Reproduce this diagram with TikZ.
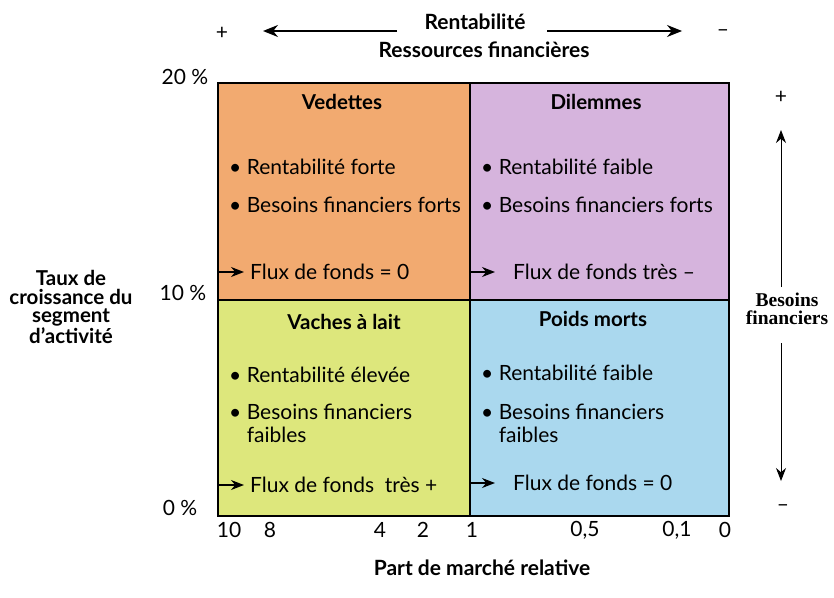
\documentclass[tikz,border=0pt]{standalone}
\usepackage{fontspec}
\setmainfont{Lato}
\newfontfamily\sideserif{Liberation Serif}
\usetikzlibrary{arrows.meta}
\definecolor{vedcol}{RGB}{242,170,112}
\definecolor{dilcol}{RGB}{214,180,221}
\definecolor{vaccol}{RGB}{221,231,124}
\definecolor{poicol}{RGB}{170,216,238}
\tikzset{
  cell/.style = {draw=black, line width=1.2pt},
  qtitle/.style = {font=\fontsize{20.5}{24}\selectfont\bfseries},
  item/.style = {anchor=west, align=left, inner sep=0pt,
    font=\fontsize{21}{23}\selectfont},
  flux/.style = {anchor=west, inner xsep=6pt, inner ysep=0pt,
    font=\fontsize{21}{24}\selectfont},
  tick/.style = {font=\fontsize{21}{24}\selectfont},
  axis/.style = {align=center, font=\fontsize{21}{24}\selectfont\bfseries},
  sidelabel/.style = {align=center, inner sep=1pt,
    font=\fontsize{19.5}{18.5}\selectfont\sideserif\bfseries},
  flow/.style = {-{Stealth[length=13pt,width=10pt]}, line width=1.3pt}
}

\begin{document}
\begin{tikzpicture}[x=1pt,y=-1pt]
  \useasboundingbox (0,0) rectangle (834,597);
  % the four quadrants
  \fill[vedcol] (218,83) rectangle (470,300);
  \fill[dilcol] (470,83) rectangle (729,300);
  \fill[vaccol] (218,300) rectangle (470,516);
  \fill[poicol] (470,300) rectangle (729,516);
  \draw[cell] (218,83) rectangle (729,516);
  \draw[cell] (470,83) -- (470,516);
  \draw[cell] (218,300) -- (729,300);

  % Vedettes
  \node[qtitle] (ved) at (342,102) {Vedettes};
  \node[item] (ved1) at (229,167) {\textbullet\ Rentabilité forte};
  \node[item] (ved2) at (229,205) {\textbullet\ Besoins financiers forts};
  \node[flux] (vedf) at (244,272) {Flux de fonds = 0};
  \coordinate (vedin) at (218,272);
  \draw[flow] (vedin) -- (vedf.west);

  % Dilemmes
  \node[qtitle] (dil) at (596,102) {Dilemmes};
  \node[item] (dil1) at (481,167) {\textbullet\ Rentabilité faible};
  \node[item] (dil2) at (481,205) {\textbullet\ Besoins financiers forts};
  \node[flux] (dilf) at (507,272) {Flux de fonds très --};
  \coordinate (dilin) at (471,272);
  \draw[flow] (dilin) -- ([xshift=-12pt]dilf.west);

  % Vaches a lait
  \node[qtitle] (vac) at (344,322) {Vaches à lait};
  \node[item] (vac1) at (229,375) {\textbullet\ Rentabilité élevée};
  \node[item] (vac2) at (229,423) {\textbullet\ Besoins financiers\\\hphantom{\textbullet\ }faibles};
  \node[flux] (vacf) at (244,485) {Flux de fonds\ \ très +};
  \coordinate (vacin) at (218,485);
  \draw[flow] (vacin) -- (vacf.west);

  % Poids morts
  \node[qtitle] (poi) at (593,319) {Poids morts};
  \node[item] (poi1) at (481,373) {\textbullet\ Rentabilité faible};
  \node[item] (poi2) at (481,423) {\textbullet\ Besoins financiers\\\hphantom{\textbullet\ }faibles};
  \node[flux] (poif) at (507,483) {Flux de fonds = 0};
  \coordinate (poiin) at (471,483);
  \draw[flow] (poiin) -- ([xshift=-12pt]poif.west);

  % top axis
  \node[axis] (rent) at (475,22) {Rentabilité};
  \node[axis] (ress) at (484,50) {Ressources financières};
  \node[tick] (plusT) at (222,33) {+};
  \node[tick] (minusT) at (723,33) {--};
  \coordinate (rentL) at (397,31);
  \coordinate (rentLtip) at (263,31);
  \coordinate (rentR) at (547,31);
  \coordinate (rentRtip) at (682,31);
  \draw[flow, -{Stealth[length=15pt,width=12pt]}] (rentL) -- (rentLtip);
  \draw[flow, -{Stealth[length=15pt,width=12pt]}] (rentR) -- (rentRtip);

  % right axis
  \node[sidelabel] (bes) at (787,309) {Besoins\\financiers};
  \node[tick] (plusR) at (781,97) {+};
  \node[tick] (minusR) at (783,508) {--};
  \coordinate (besU) at (781,287);
  \coordinate (besUtip) at (781,130);
  \coordinate (besD) at (781,343);
  \coordinate (besDtip) at (781,481);
  \draw[flow, line width=1pt] (besU) -- (besUtip);
  \draw[flow, line width=1pt] (besD) -- (besDtip);

  % left axis
  \node[axis, font=\fontsize{20.5}{18.5}\selectfont\bfseries] (taux) at (71,307)
    {Taux de\\croissance du\\segment\\d'activité};
  \node[tick] (p20) at (185,77) {20 \%};
  \node[tick] (p10) at (183,293) {10 \%};
  \node[tick] (p0) at (180,508) {0 \%};

  % bottom axis
  \foreach \lab/\xpos in {10/229, 8/270, 4/380, 2/423, 1/472, {0,5}/585, {0,1}/677, 0/725}
    \node[tick] at (\xpos,530) {\lab};
  \node[axis] (part) at (482,568) {Part de marché relative};
\end{tikzpicture}
\end{document}
